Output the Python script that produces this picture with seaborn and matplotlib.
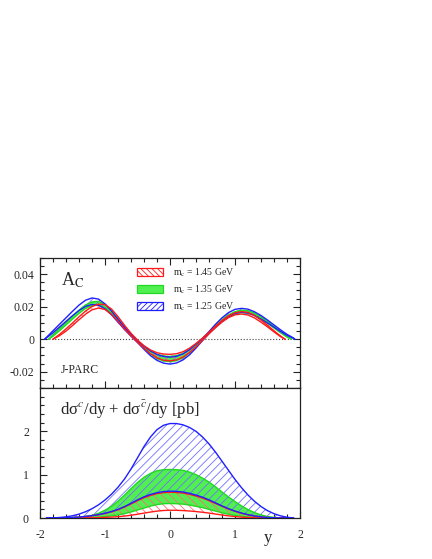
import numpy as np
import seaborn as sns
import matplotlib.pyplot as plt
from matplotlib.patches import Patch
from matplotlib.ticker import MultipleLocator, FixedLocator, FuncFormatter

#
# asymmetry A_C(y): upper / lower edge of each band
#
grid = np.round(np.arange(-1.9, 1.95, 0.1), 1)

ac_x_125 = np.r_[-1.93, grid, 1.92]
ac_hi_125 = [0.0, 0.0012, 0.0052, 0.0092, 0.0132, 0.0172, 0.0210, 0.0240, 0.0254, 0.0247,
             0.0218, 0.0174, 0.0123, 0.0074, 0.0030, -0.0009, -0.0043, -0.0072, -0.0094, -0.0106,
             -0.0110, -0.0105, -0.0090, -0.0064, -0.0030, 0.0005, 0.0047, 0.0092, 0.0132, 0.0164,
             0.0184, 0.0190, 0.0185, 0.0169, 0.0146, 0.0118, 0.0088, 0.0058, 0.0030, 0.0008, 0.0]
ac_lo_125 = [0.0, 0.0008, 0.0040, 0.0075, 0.0110, 0.0145, 0.0177, 0.0202, 0.0214, 0.0209,
             0.0187, 0.0150, 0.0105, 0.0060, 0.0019, -0.0020, -0.0062, -0.0101, -0.0130, -0.0147,
             -0.0153, -0.0146, -0.0127, -0.0096, -0.0054, -0.0008, 0.0035, 0.0073, 0.0108, 0.0139,
             0.0159, 0.0166, 0.0161, 0.0146, 0.0124, 0.0100, 0.0074, 0.0048, 0.0024, 0.0005, 0.0]

ac_x_135 = np.r_[-1.87, grid[1:-1], 1.87]
ac_hi_135 = [0.0, 0.0028, 0.0066, 0.0104, 0.0142, 0.0179, 0.0211, 0.0230, 0.0233, 0.0214,
             0.0175, 0.0126, 0.0075, 0.0030, -0.0010, -0.0045, -0.0074, -0.0093, -0.0103, -0.0106,
             -0.0101, -0.0088, -0.0064, -0.0032, 0.0004, 0.0043, 0.0083, 0.0120, 0.0150, 0.0170,
             0.0179, 0.0176, 0.0161, 0.0138, 0.0110, 0.0079, 0.0047, 0.0018, 0.0]
ac_lo_135 = [0.0, 0.0018, 0.0052, 0.0088, 0.0124, 0.0159, 0.0189, 0.0207, 0.0210, 0.0195,
             0.0160, 0.0114, 0.0066, 0.0024, -0.0015, -0.0055, -0.0091, -0.0119, -0.0134, -0.0138,
             -0.0132, -0.0114, -0.0084, -0.0046, -0.0005, 0.0036, 0.0075, 0.0110, 0.0138, 0.0157,
             0.0164, 0.0160, 0.0146, 0.0124, 0.0098, 0.0069, 0.0040, 0.0013, 0.0]

ac_x_145 = np.r_[grid[1:-2], 1.77]
ac_hi_145 = [0.0, 0.0030, 0.0064, 0.0100, 0.0138, 0.0173, 0.0201, 0.0216, 0.0213, 0.0186,
             0.0139, 0.0086, 0.0037, -0.0005, -0.0040, -0.0066, -0.0083, -0.0091, -0.0093, -0.0089,
             -0.0077, -0.0055, -0.0026, 0.0007, 0.0043, 0.0080, 0.0115, 0.0144, 0.0163, 0.0170,
             0.0165, 0.0146, 0.0118, 0.0086, 0.0052, 0.0020, 0.0]
ac_lo_145 = [0.0, 0.0022, 0.0050, 0.0084, 0.0120, 0.0154, 0.0181, 0.0192, 0.0183, 0.0153,
             0.0110, 0.0063, 0.0020, -0.0019, -0.0056, -0.0089, -0.0114, -0.0129, -0.0133, -0.0127,
             -0.0110, -0.0082, -0.0047, -0.0007, 0.0034, 0.0072, 0.0106, 0.0133, 0.0150, 0.0155,
             0.0149, 0.0131, 0.0105, 0.0076, 0.0045, 0.0016, 0.0]

#
# d sigma / dy [pb] on the same grid
#
xs_hi_125 = [0.0, 0.004, 0.012, 0.027, 0.052, 0.09, 0.145, 0.215, 0.305, 0.415,
             0.55, 0.71, 0.90, 1.13, 1.39, 1.65, 1.87, 2.04, 2.14, 2.18,
             2.18, 2.15, 2.09, 2.00, 1.87, 1.71, 1.52, 1.31, 1.10, 0.89,
             0.70, 0.53, 0.385, 0.265, 0.17, 0.10, 0.05, 0.018, 0.0]
xs_lo_125 = [0.0, 0.002, 0.004, 0.007, 0.012, 0.021, 0.036, 0.056, 0.08, 0.11,
             0.15, 0.20, 0.265, 0.34, 0.42, 0.49, 0.545, 0.585, 0.61, 0.62,
             0.615, 0.60, 0.57, 0.53, 0.48, 0.42, 0.35, 0.28, 0.215, 0.16,
             0.115, 0.078, 0.048, 0.027, 0.013, 0.006, 0.002, 0.0, 0.0]
xs_hi_135 = [0.0, 0.001, 0.003, 0.007, 0.013, 0.022, 0.037, 0.062, 0.11, 0.18,
             0.27, 0.39, 0.53, 0.68, 0.82, 0.94, 1.03, 1.09, 1.115, 1.12,
             1.115, 1.10, 1.06, 1.00, 0.92, 0.83, 0.72, 0.60, 0.485, 0.38,
             0.28, 0.195, 0.125, 0.07, 0.034, 0.014, 0.004, 0.0, 0.0]
xs_lo_135 = [0.0, 0.0, 0.0, 0.001, 0.002, 0.004, 0.008, 0.014, 0.022, 0.034,
             0.05, 0.072, 0.10, 0.14, 0.185, 0.23, 0.275, 0.31, 0.33, 0.335,
             0.33, 0.32, 0.30, 0.27, 0.24, 0.20, 0.16, 0.12, 0.087, 0.06,
             0.04, 0.024, 0.013, 0.006, 0.002, 0.0, 0.0, 0.0, 0.0]
xs_hi_145 = [0.0, 0.002, 0.003, 0.005, 0.011, 0.019, 0.033, 0.052, 0.076, 0.105,
             0.143, 0.19, 0.253, 0.325, 0.40, 0.468, 0.522, 0.562, 0.586, 0.595,
             0.59, 0.575, 0.546, 0.507, 0.46, 0.40, 0.335, 0.27, 0.207, 0.153,
             0.108, 0.072, 0.045, 0.025, 0.012, 0.005, 0.002, 0.0, 0.0]
xs_lo_145 = [0.0, 0.0, 0.0, 0.001, 0.001, 0.002, 0.004, 0.006, 0.010, 0.015,
             0.022, 0.031, 0.045, 0.064, 0.088, 0.113, 0.138, 0.159, 0.174, 0.18,
             0.178, 0.172, 0.162, 0.149, 0.133, 0.114, 0.092, 0.07, 0.05, 0.033,
             0.02, 0.011, 0.005, 0.002, 0.0, 0.0, 0.0, 0.0, 0.0]

labels = ['m$_\\mathrm{c}$ = 1.45 GeV', 'm$_\\mathrm{c}$ = 1.35 GeV', 'm$_\\mathrm{c}$ = 1.25 GeV']

#
#
#
sns.set_theme(style='ticks')
plt.rcParams['font.family'] = ['Liberation Serif', 'DejaVu Serif']
plt.rcParams['mathtext.fontset'] = 'stix'
plt.rcParams['axes.unicode_minus'] = False
plt.rcParams['hatch.linewidth'] = 0.6

red, green, blue = '#ff1a1a', '#22d822', '#2020ff'
red_h, blue_h = '#ff7070', '#7070ff'
green_f = '#50f050'

fig = plt.figure(figsize=(4.32, 5.59), dpi=100)
top = fig.add_axes([0.0926, 0.3059, 0.6019, 0.2326])
bot = fig.add_axes([0.0926, 0.0733, 0.6019, 0.2326])


def band(ax, x, lo, hi, color, hatch_color=None, hatch=None, fill=None):
    if fill is not None:
        ax.fill_between(x, lo, hi, facecolor=fill, edgecolor='none', lw=0, zorder=1)
    else:
        ax.fill_between(x, lo, hi, facecolor='none', edgecolor=hatch_color,
                        hatch=hatch, lw=0, zorder=2)
    sns.lineplot(x=x, y=hi, ax=ax, color=color, lw=1.0, legend=False, zorder=3)
    sns.lineplot(x=x, y=lo, ax=ax, color=color, lw=1.0, legend=False, zorder=3)


# top panel
band(top, ac_x_135, ac_lo_135, ac_hi_135, green, fill=green_f)
band(top, ac_x_125, ac_lo_125, ac_hi_125, blue, blue_h, '////')
band(top, ac_x_145, ac_lo_145, ac_hi_145, red, red_h, '\\\\\\\\')
top.axhline(0, color='#444444', ls=':', lw=0.8, zorder=0)

# bottom panel
band(bot, grid, xs_lo_135, xs_hi_135, green, fill=green_f)
band(bot, grid, xs_lo_145, xs_hi_145, red, red_h, '\\\\\\\\')
band(bot, grid, xs_lo_125, xs_hi_125, blue, blue_h, '////')

#
#
#
for ax in (top, bot):
    ax.set_xlim(-2, 2)
    ax.xaxis.set_major_locator(MultipleLocator(1))
    ax.xaxis.set_minor_locator(MultipleLocator(0.2))
    ax.set_ylabel('')
    for s in ax.spines.values():
        s.set_linewidth(0.9)
        s.set_color('#222222')
        s.set_visible(True)
    ax.tick_params(which='both', direction='in', labelsize=8.5, width=0.8, color='#222222')
    ax.tick_params(which='major', length=5)
    ax.tick_params(which='minor', length=2.6)
    ax.tick_params(axis='y', pad=4)

top.set_ylim(-0.03, 0.05)
top.yaxis.set_major_locator(MultipleLocator(0.02))
top.yaxis.set_minor_locator(MultipleLocator(0.005))
top.yaxis.set_major_formatter(FuncFormatter(lambda v, p: '0' if abs(v) < 1e-9 else f'{v:g}'))
top.tick_params(which='both', top=True, right=True, labelbottom=False)
top.set_xlabel('')

bot.set_ylim(0, 3)
bot.yaxis.set_major_locator(FixedLocator([0, 1, 2]))
bot.yaxis.set_minor_locator(MultipleLocator(0.2))
bot.tick_params(which='both', top=False, right=False)
bot.tick_params(axis='x', pad=8)
bot.tick_params(axis='y', pad=8)
bot.set_xlabel('y', fontsize=12)
bot.xaxis.set_label_coords(0.877, -0.09)

top.text(0.08, 0.79, 'A$_\\mathrm{C}$', transform=top.transAxes, fontsize=13)
top.text(0.08, 0.115, 'J-PARC', transform=top.transAxes, fontsize=8.5)
bot.text(0.075, 0.79, 'dσ$^{c}$/dy + dσ$^{\\bar{c}}$/dy [pb]',
         transform=bot.transAxes, fontsize=12)

handles = [
    Patch(facecolor='none', edgecolor=red, hatch='\\\\\\\\\\\\', lw=0.9),
    Patch(facecolor=green_f, edgecolor=green, lw=0.9),
    Patch(facecolor='none', edgecolor=blue, hatch='//////', lw=0.9),
]
top.legend(handles, labels, loc='upper left', bbox_to_anchor=(0.373, 0.935),
           frameon=False, fontsize=7, borderpad=0, borderaxespad=0,
           handlelength=2.7, handleheight=0.85, handletextpad=1.0, labelspacing=0.45)

fig.savefig('out.png', dpi=100)
